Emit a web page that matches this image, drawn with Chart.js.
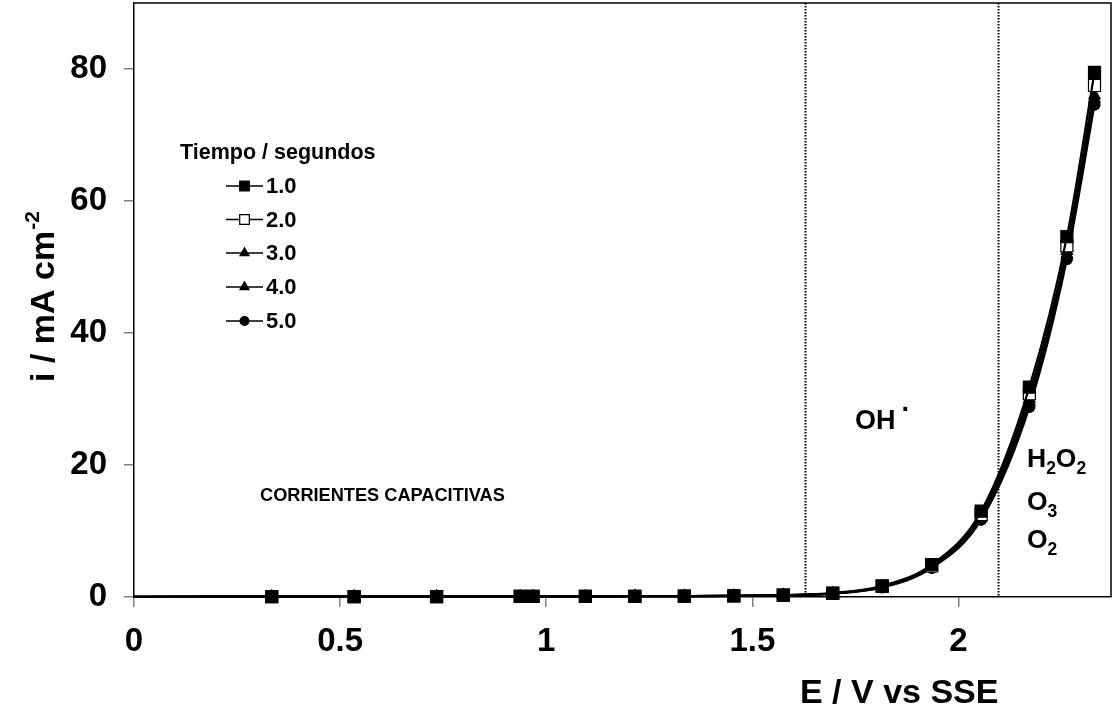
<!DOCTYPE html>
<html>
<head>
<meta charset="utf-8">
<script src="https://cdn.jsdelivr.net/npm/chart.js@4.4.0/dist/chart.umd.min.js"></script>
<style>
body { margin: 0; background: #fff; }
</style>
</head>
<body>
<canvas id="myChart" width="1114" height="723"></canvas>
<script>
// potencial (V vs SSE) y densidad de corriente (mA cm-2) para cada tiempo de pulso
var potencial = [0, 0.334, 0.534, 0.734, 0.937, 0.968, 1.095, 1.215, 1.335, 1.455, 1.575, 1.695, 1.815, 1.935, 2.055, 2.172, 2.263, 2.33];
var tiempos = ['1.0', '2.0', '3.0', '4.0', '5.0'];
var corriente1 = [0.03, 0.05, 0.06, 0.07, 0.08, 0.09, 0.1, 0.11, 0.13, 0.18, 0.3, 0.6, 1.7, 4.9, 13.0, 31.8, 54.6, 79.5];
var corriente2 = [0.03, 0.05, 0.06, 0.07, 0.08, 0.09, 0.1, 0.11, 0.13, 0.17, 0.28, 0.55, 1.6, 4.7, 12.5, 30.8, 53.2, 77.5];
var corriente3 = [0.03, 0.05, 0.06, 0.07, 0.08, 0.09, 0.1, 0.11, 0.13, 0.17, 0.27, 0.53, 1.55, 4.6, 12.2, 30.0, 52.4, 76.0];
var corriente4 = [0.03, 0.05, 0.06, 0.07, 0.08, 0.09, 0.1, 0.11, 0.13, 0.17, 0.27, 0.52, 1.5, 4.5, 12.0, 29.6, 51.9, 75.5];
var corriente5 = [0.03, 0.05, 0.06, 0.07, 0.08, 0.09, 0.1, 0.11, 0.12, 0.16, 0.26, 0.5, 1.45, 4.4, 11.7, 28.8, 51.2, 74.6];
var xTicks = [0, 0.5, 1, 1.5, 2];
var yTicks = [0, 20, 40, 60, 80];
var limites = [1.627, 2.096];

var FONT = "'Liberation Sans', Arial, sans-serif";
var estilos = [
    {pointStyle: 'rect', radius: 8.5, fill: '#000'},
    {pointStyle: 'rect', radius: 8.5, fill: '#fff'},
    {pointStyle: 'triangle', radius: 6.5, fill: '#000'},
    {pointStyle: 'triangle', radius: 6.5, fill: '#000'},
    {pointStyle: 'circle', radius: 5.5, fill: '#000'}
];
var series = [corriente1, corriente2, corriente3, corriente4, corriente5];

function puntos(valores){
    return potencial.map(function(x, i){ return {x: x, y: valores[i]}; });
}

var datasets = series.map(function(valores, k){
    return {
        label: tiempos[k],
        data: puntos(valores),
        borderColor: '#000',
        borderWidth: 2.2,
        backgroundColor: estilos[k].fill,
        pointBackgroundColor: estilos[k].fill,
        pointBorderColor: '#000',
        pointBorderWidth: 1.2,
        pointStyle: estilos[k].pointStyle,
        pointRadius: function(ctx){ return ctx.dataIndex === 0 ? 0 : estilos[k].radius; },
        cubicInterpolationMode: 'monotone',
        clip: false,
        fill: false
    };
});

function texto(ctx, str, x, y, size){
    ctx.font = 'bold ' + size + 'px ' + FONT;
    ctx.fillText(str, x, y);
    return x + ctx.measureText(str).width;
}

// formula con subindices, p.ej. [['H',0],['2',1],['O',0],['2',1]]
function formula(ctx, partes, x, y, size){
    partes.forEach(function(p){
        if (p[1]) x = texto(ctx, p[0], x, y + 7, size * 0.66);
        else x = texto(ctx, p[0], x, y, size);
    });
}

var extras = {
    id: 'extras',
    afterDraw: function(chart){
        var ctx = chart.ctx;
        var area = chart.chartArea;
        var sx = chart.scales.x;
        ctx.save();

        // marco
        ctx.strokeStyle = '#000';
        ctx.lineWidth = 1.5;
        ctx.beginPath();
        ctx.moveTo(area.left, area.top);
        ctx.lineTo(area.right, area.top);
        ctx.lineTo(area.right, area.bottom);
        ctx.stroke();

        // limites entre zonas
        ctx.setLineDash([1.5, 1.5]);
        ctx.lineWidth = 2;
        limites.forEach(function(v){
            var px = Math.round(sx.getPixelForValue(v)) + 0.5;
            ctx.beginPath();
            ctx.moveTo(px, area.top);
            ctx.lineTo(px, area.bottom);
            ctx.stroke();
        });
        ctx.setLineDash([]);

        ctx.fillStyle = '#000';
        ctx.textBaseline = 'alphabetic';
        ctx.textAlign = 'left';

        // zonas
        texto(ctx, 'CORRIENTES CAPACITIVAS', 260, 501, 18.2);
        var fin = texto(ctx, 'OH', 855, 429, 27);
        texto(ctx, '\u00b7', fin + 6, 418, 27);
        formula(ctx, [['H', 0], ['2', 1], ['O', 0], ['2', 1]], 1027, 467, 26.5);
        formula(ctx, [['O', 0], ['3', 1]], 1027, 510, 26.5);
        formula(ctx, [['O', 0], ['2', 1]], 1027, 548, 26.5);

        // leyenda
        texto(ctx, 'Tiempo / segundos', 180, 159, 21.5);
        var ys = [186, 219.5, 253, 287, 321];
        tiempos.forEach(function(t, k){
            var y = ys[k];
            ctx.strokeStyle = '#000';
            ctx.lineWidth = 1.5;
            ctx.beginPath();
            ctx.moveTo(226, y);
            ctx.lineTo(263, y);
            ctx.stroke();
            ctx.fillStyle = estilos[k].fill;
            ctx.lineWidth = 1.2;
            Chart.helpers.drawPoint(ctx, {
                pointStyle: estilos[k].pointStyle,
                radius: estilos[k].radius * 0.8,
                rotation: 0,
                borderWidth: 1.2
            }, 244.5, y);
            ctx.fillStyle = '#000';
            ctx.textBaseline = 'middle';
            texto(ctx, t, 266, y + 1, 22);
            ctx.textBaseline = 'alphabetic';
        });

        // titulos de ejes
        texto(ctx, 'E / V vs SSE', 800, 703, 34);
        ctx.translate(54, 297);
        ctx.rotate(-Math.PI / 2);
        ctx.font = 'bold 34px ' + FONT;
        var w1 = ctx.measureText('i / mA cm').width;
        ctx.font = 'bold 21px ' + FONT;
        var w2 = ctx.measureText('-2').width;
        var x0 = -(w1 + w2) / 2;
        texto(ctx, 'i / mA cm', x0, 0, 34);
        texto(ctx, '-2', x0 + w1 + 1, -15, 21);
        ctx.restore();
    }
};

var myChart = new Chart(document.getElementById('myChart'), {
    type: 'line',
    data: { datasets: datasets },
    options: {
        responsive: false,
        animation: false,
        layout: { autoPadding: false, padding: { top: 3, right: 3 } },
        plugins: { legend: { display: false }, tooltip: { enabled: false } },
        scales: {
            x: {
                type: 'linear',
                min: 0,
                max: 2.37,
                afterBuildTicks: function(scale){ scale.ticks = xTicks.map(function(v){ return {value: v}; }); },
                afterFit: function(scale){
                    scale.height = 126;
                    scale.paddingLeft = 0;
                    scale.paddingRight = 0;
                },
                grid: { drawOnChartArea: false, tickLength: 10, color: '#808080', lineWidth: 1.5 },
                border: { color: '#000', width: 1.5 },
                ticks: {
                    padding: 15,
                    color: '#000',
                    font: { family: FONT, size: 33, weight: 'bold' },
                    callback: function(v){ return String(v); },
                    maxRotation: 0
                }
            },
            y: {
                min: 0,
                max: 90,
                afterBuildTicks: function(scale){ scale.ticks = yTicks.map(function(v){ return {value: v}; }); },
                afterFit: function(scale){
                    scale.width = 134;
                    scale.paddingTop = 0;
                    scale.paddingBottom = 0;
                },
                grid: { drawOnChartArea: false, tickLength: 10, color: '#808080', lineWidth: 1.5 },
                border: { color: '#000', width: 1.5 },
                ticks: {
                    padding: 17,
                    color: '#000',
                    font: { family: FONT, size: 33, weight: 'bold' },
                    callback: function(v){ return String(v); }
                }
            }
        }
    },
    plugins: [extras]
});
</script>
</body>
</html>
